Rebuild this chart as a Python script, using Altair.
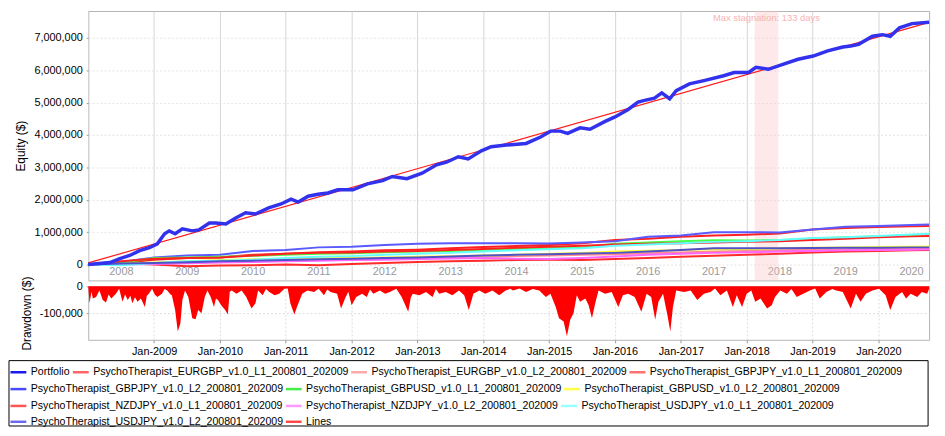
import altair as alt
import numpy as np
import pandas as pd

# ---------------- data (t = years since 1 Jan 2008) ----------------
PORT_T = [0.0, 0.33, 0.48, 0.63, 0.78, 0.93, 1.05, 1.16, 1.23, 1.32, 1.43, 1.58, 1.68, 1.84, 1.94,
          2.09, 2.24, 2.39, 2.54, 2.74, 2.93, 3.08, 3.19, 3.34, 3.49, 3.64, 3.79, 4.02, 4.24, 4.47,
          4.62, 4.84, 5.07, 5.29, 5.44, 5.62, 5.77, 5.97, 6.12, 6.35, 6.65, 6.87, 7.02, 7.17, 7.28,
          7.47, 7.62, 7.85, 8.00, 8.20, 8.35, 8.45, 8.60, 8.71, 8.83, 8.93, 9.13, 9.35, 9.65, 9.81,
          10.03, 10.14, 10.33, 10.56, 10.78, 11.01, 11.23, 11.46, 11.58, 11.70, 11.91, 12.06, 12.18,
          12.32, 12.51, 12.77]
PORT_V = [0.0, 0.06, 0.18, 0.28, 0.43, 0.52, 0.64, 0.95, 1.04, 0.95, 1.10, 1.04, 1.07, 1.28, 1.28,
          1.25, 1.44, 1.60, 1.56, 1.75, 1.87, 2.02, 1.93, 2.11, 2.17, 2.21, 2.31, 2.31, 2.49, 2.59,
          2.72, 2.65, 2.82, 3.08, 3.16, 3.33, 3.26, 3.51, 3.64, 3.69, 3.74, 3.94, 4.12, 4.12, 4.05,
          4.22, 4.18, 4.42, 4.56, 4.79, 5.02, 5.07, 5.14, 5.30, 5.12, 5.37, 5.58, 5.68, 5.83, 5.93,
          5.93, 6.09, 6.03, 6.19, 6.34, 6.44, 6.60, 6.72, 6.75, 6.80, 7.05, 7.10, 7.05, 7.31, 7.44,
          7.48]

TREND_T = [0.0, 12.77]
TREND_V = [0.05, 7.48]

STRAT_T = [0, 0.5, 1, 1.5, 2, 2.5, 3, 3.5, 4, 4.5, 5, 5.5, 6, 6.5, 7, 7.5, 8, 8.5, 9, 9.5, 10,
           10.5, 11, 11.5, 12, 12.5, 12.77]

N_EURGBP_L1 = "PsychoTherapist_EURGBP_v1.0_L1_200801_202009"
N_EURGBP_L2 = "PsychoTherapist_EURGBP_v1.0_L2_200801_202009"
N_GBPJPY_L1 = "PsychoTherapist_GBPJPY_v1.0_L1_200801_202009"
N_GBPJPY_L2 = "PsychoTherapist_GBPJPY_v1.0_L2_200801_202009"
N_GBPUSD_L1 = "PsychoTherapist_GBPUSD_v1.0_L1_200801_202009"
N_GBPUSD_L2 = "PsychoTherapist_GBPUSD_v1.0_L2_200801_202009"
N_NZDJPY_L1 = "PsychoTherapist_NZDJPY_v1.0_L1_200801_202009"
N_NZDJPY_L2 = "PsychoTherapist_NZDJPY_v1.0_L2_200801_202009"
N_USDJPY_L1 = "PsychoTherapist_USDJPY_v1.0_L1_200801_202009"
N_USDJPY_L2 = "PsychoTherapist_USDJPY_v1.0_L2_200801_202009"

V_EURGBP_L1 = [0, 0.05, 0.0, -0.05, -0.03, -0.02, 0.0, -0.02, 0.02, 0.05, 0.08, 0.10, 0.12, 0.14,
               0.15, 0.14, 0.17, 0.20, 0.24, 0.27, 0.30, 0.33, 0.37, 0.40, 0.42, 0.44, 0.45]
V_EURGBP_L2 = [0, 0.02, 0.04, 0.06, 0.08, 0.10, 0.12, 0.14, 0.15, 0.17, 0.19, 0.21, 0.24, 0.26,
               0.28, 0.30, 0.32, 0.35, 0.37, 0.40, 0.42, 0.44, 0.46, 0.47, 0.48, 0.49, 0.50]
V_GBPJPY_L1 = [0, 0.05, 0.15, 0.20, 0.22, 0.30, 0.33, 0.38, 0.40, 0.44, 0.46, 0.50, 0.54, 0.57,
               0.60, 0.66, 0.76, 0.80, 0.86, 0.90, 0.92, 0.96, 1.08, 1.13, 1.16, 1.18, 1.19]
V_GBPJPY_L2 = [0, 0.08, 0.22, 0.28, 0.30, 0.42, 0.45, 0.53, 0.55, 0.60, 0.64, 0.66, 0.66, 0.66,
               0.65, 0.68, 0.72, 0.86, 0.90, 1.00, 1.00, 0.99, 1.08, 1.17, 1.19, 1.22, 1.24]
V_GBPUSD_L1 = [0, 0.05, 0.20, 0.22, 0.24, 0.27, 0.30, 0.33, 0.35, 0.38, 0.40, 0.42, 0.45, 0.48,
               0.50, 0.53, 0.64, 0.68, 0.72, 0.75, 0.74, 0.76, 0.80, 0.84, 0.87, 0.91, 0.93]
V_GBPUSD_L2 = [0, 0.02, 0.06, 0.10, 0.14, 0.16, 0.18, 0.20, 0.20, 0.22, 0.24, 0.26, 0.28, 0.30,
               0.33, 0.36, 0.40, 0.43, 0.45, 0.47, 0.48, 0.50, 0.52, 0.53, 0.54, 0.55, 0.56]
V_NZDJPY_L1 = [0, 0.10, 0.18, 0.20, 0.22, 0.28, 0.33, 0.36, 0.37, 0.40, 0.42, 0.45, 0.48, 0.52,
               0.55, 0.58, 0.62, 0.64, 0.66, 0.68, 0.70, 0.72, 0.76, 0.80, 0.84, 0.87, 0.88]
V_NZDJPY_L2 = [0, 0.0, 0.02, 0.04, 0.06, 0.08, 0.10, 0.12, 0.14, 0.15, 0.17, 0.19, 0.20, 0.18,
               0.17, 0.20, 0.25, 0.30, 0.33, 0.36, 0.38, 0.40, 0.42, 0.44, 0.45, 0.46, 0.47]
V_USDJPY_L1 = [0, -0.02, 0.05, 0.10, 0.12, 0.15, 0.20, 0.24, 0.26, 0.30, 0.33, 0.36, 0.40, 0.44,
               0.47, 0.50, 0.58, 0.62, 0.66, 0.70, 0.72, 0.76, 0.82, 0.84, 0.88, 0.93, 0.95]
V_USDJPY_L2 = [0, 0.03, 0.05, 0.07, 0.10, 0.12, 0.14, 0.16, 0.18, 0.20, 0.22, 0.25, 0.28, 0.30,
               0.32, 0.34, 0.36, 0.40, 0.45, 0.50, 0.50, 0.50, 0.51, 0.52, 0.52, 0.53, 0.53]

DD_T = [0.00, 0.02, 0.05, 0.07, 0.12, 0.17, 0.22, 0.27, 0.31, 0.35, 0.42, 0.47, 0.52, 0.56, 0.60,
        0.64, 0.67, 0.71, 0.75, 0.80, 0.86, 0.89, 0.92, 0.97, 1.01, 1.05, 1.12, 1.16, 1.20, 1.25,
        1.27, 1.32, 1.36, 1.40, 1.43, 1.47, 1.52, 1.58, 1.63, 1.67, 1.72, 1.77, 1.81, 1.86, 1.91,
        1.94, 1.97, 2.02, 2.08, 2.12, 2.15, 2.18, 2.25, 2.33, 2.40, 2.48, 2.54, 2.58, 2.65, 2.70,
        2.75, 2.83, 2.90, 2.98, 3.03, 3.07, 3.13, 3.18, 3.25, 3.33, 3.43, 3.50, 3.58, 3.63, 3.68,
        3.78, 3.84, 3.90, 3.95, 4.00, 4.07, 4.16, 4.23, 4.28, 4.33, 4.43, 4.51, 4.58, 4.68, 4.76,
        4.86, 4.90, 4.93, 5.03, 5.13, 5.23, 5.28, 5.33, 5.43, 5.53, 5.63, 5.71, 5.78, 5.85, 5.94,
        6.03, 6.14, 6.24, 6.34, 6.41, 6.45, 6.55, 6.65, 6.75, 6.85, 6.95, 7.02, 7.10, 7.15, 7.22,
        7.27, 7.32, 7.37, 7.42, 7.47, 7.55, 7.60, 7.65, 7.70, 7.75, 7.85, 7.95, 8.05, 8.12, 8.20,
        8.30, 8.40, 8.48, 8.55, 8.61, 8.66, 8.73, 8.80, 8.84, 8.88, 8.93, 9.05, 9.15, 9.25, 9.35,
        9.45, 9.52, 9.60, 9.70, 9.79, 9.85, 9.93, 10.00, 10.07, 10.13, 10.21, 10.31, 10.38, 10.43,
        10.51, 10.61, 10.68, 10.76, 10.86, 10.96, 11.04, 11.11, 11.21, 11.30, 11.36, 11.46, 11.58,
        11.66, 11.73, 11.81, 11.91, 12.01, 12.11, 12.18, 12.26, 12.36, 12.42, 12.49, 12.59, 12.66,
        12.74, 12.77]
DD_V = [0, -63, -20, -45, -39, -15, -51, -60, -30, -45, -27, -9, -57, -30, -51,
        -35, -63, -40, -57, -45, -76, -35, -27, -9, -30, -39, -27, -10, -15, -30,
        -33, -88, -167, -137, -51, -15, -39, -118, -122, -88, -100, -39, -15, -39, -76,
        -45, -51, -70, -88, -104, -20, -15, -27, -15, -39, -82, -63, -15, -33, -10,
        -21, -33, -27, -9, -8, -63, -104, -70, -27, -15, -21, -9, -33, -12, -21,
        -27, -82, -45, -20, -70, -39, -27, -39, -12, -27, -15, -27, -21, -9, -39,
        -94, -40, -27, -33, -21, -39, -10, -27, -21, -33, -15, -33, -88, -27, -15,
        -27, -15, -33, -15, -9, -15, -8, -21, -10, -15, -39, -27, -76, -118, -130,
        -185, -124, -100, -33, -57, -45, -70, -118, -63, -15, -27, -21, -76, -33, -27,
        -39, -94, -27, -39, -124, -57, -27, -112, -167, -76, -15, -21, -15, -51, -27,
        -21, -8, -33, -15, -76, -33, -76, -27, -15, -57, -45, -82, -70, -39,
        -15, -27, -10, -39, -27, -15, -8, -45, -21, -10, -15, -21, -82,
        -27, -57, -27, -15, -9, -33, -88, -39, -21, -45, -27, -39, -21,
        -27, -10]

STAG_START, STAG_END = 10.12, 10.48
STAG_LABEL = "Max stagnation: 133 days"
X_END = 12.77
YEAR0 = 2008

STRAT_NAMES = [N_EURGBP_L1, N_EURGBP_L2, N_GBPJPY_L1, N_GBPJPY_L2, N_GBPUSD_L1, N_GBPUSD_L2,
               N_NZDJPY_L1, N_NZDJPY_L2, N_USDJPY_L1, N_USDJPY_L2]
STRAT_VALUES = [V_EURGBP_L1, V_EURGBP_L2, V_GBPJPY_L1, V_GBPJPY_L2, V_GBPUSD_L1, V_GBPUSD_L2,
                V_NZDJPY_L1, V_NZDJPY_L2, V_USDJPY_L1, V_USDJPY_L2]
STRAT_COLORS = ["#ff2a2a", "#ff8c8c", "#ff2020", "#5a5aff", "#44ff44", "#ffff33",
                "#ff2020", "#ff66ff", "#66ffff", "#5050c8"]

LEGEND_ROWS = [
    ["Portfolio", N_EURGBP_L1, N_EURGBP_L2, N_GBPJPY_L1],
    [N_GBPJPY_L2, N_GBPUSD_L1, N_GBPUSD_L2],
    [N_NZDJPY_L1, N_NZDJPY_L2, N_USDJPY_L1],
    [N_USDJPY_L2, "Lines"],
]
LEGEND_COLORS = {
    "Portfolio": "#1a1aee", N_EURGBP_L1: "#ff6666", N_EURGBP_L2: "#ffaaaa", N_GBPJPY_L1: "#ff7070",
    N_GBPJPY_L2: "#4848ff", N_GBPUSD_L1: "#44ee44", N_GBPUSD_L2: "#ffff44", N_NZDJPY_L1: "#ff5555",
    N_NZDJPY_L2: "#ff99ff", N_USDJPY_L1: "#99ffff", N_USDJPY_L2: "#6a6aee", "Lines": "#ff4a4a",
}

# ---------------- tables ----------------
port_df = pd.DataFrame({"t": PORT_T, "value": np.array(PORT_V) * 1e6})
trend_df = pd.DataFrame({"t": TREND_T, "value": np.array(TREND_V) * 1e6})
strat_df = pd.concat([
    pd.DataFrame({"t": STRAT_T, "value": np.array(v) * 1e6, "series": n})
    for n, v in zip(STRAT_NAMES, STRAT_VALUES)
], ignore_index=True)
dd_df = pd.DataFrame({"t": DD_T, "dd": np.array(DD_V) * 1e3})
stag_df = pd.DataFrame({"s": [STAG_START], "e": [STAG_END],
                        "m": [(STAG_START + STAG_END) / 2], "label": [STAG_LABEL]})

FONT = "Liberation Sans"
x_scale = alt.Scale(domain=[0, X_END], nice=False, zero=False)

# ---------------- top (equity) panel ----------------
top_x_axis = alt.Axis(values=list(range(0, 13)), labelExpr=f"format({YEAR0} + datum.value, 'd')",
                      title=None, domain=False, ticks=False,
                      labelPadding=-15, labelOffset=33, labelFlush=False, labelOverlap=False,
                      labelColor="#9a9a9a", labelFontSize=11, grid=True, gridColor="#d6d6d6",
                      gridWidth=1)
top_y_axis = alt.Axis(values=[float(i * 1000000) for i in range(0, 8)], format=",.0f",
                      title="Equity ($)", domain=False, tickSize=2, tickColor="#999999",
                      labelPadding=4, labelOverlap=False, labelFlush=False,
                      gridColor="#e4e4e4", gridDash=[2, 2], titlePadding=6)
y_scale = alt.Scale(domain=[-0.49e6, 7.83e6], nice=False, zero=False)

band = alt.Chart(stag_df).mark_rect(color="#f9c4c4", opacity=0.38).encode(
    x=alt.X("s:Q", scale=x_scale, axis=top_x_axis), x2="e:Q")
stag_text = alt.Chart(stag_df).mark_text(color="#f7b4b4", fontSize=9.5, baseline="middle",
                                         font=FONT).encode(
    x=alt.X("m:Q", scale=x_scale, axis=top_x_axis), y=alt.value(7), text="label:N")
strat_lines = alt.Chart(strat_df).mark_line(strokeWidth=2).encode(
    x=alt.X("t:Q", scale=x_scale, axis=top_x_axis),
    y=alt.Y("value:Q", scale=y_scale, axis=top_y_axis),
    color=alt.Color("series:N", scale=alt.Scale(domain=STRAT_NAMES, range=STRAT_COLORS), legend=None),
    detail="series:N")
trend_line = alt.Chart(trend_df).mark_line(strokeWidth=1.2, color="#ff1a1a").encode(
    x=alt.X("t:Q", scale=x_scale, axis=top_x_axis),
    y=alt.Y("value:Q", scale=y_scale, axis=top_y_axis))
port_line = alt.Chart(port_df).mark_line(strokeWidth=3.5, color="#3131ee").encode(
    x=alt.X("t:Q", scale=x_scale, axis=top_x_axis),
    y=alt.Y("value:Q", scale=y_scale, axis=top_y_axis))

top = alt.layer(band, stag_text, strat_lines, trend_line, port_line).properties(width=849, height=272)

# ---------------- drawdown panel ----------------
dd_x_axis = alt.Axis(values=list(range(1, 13)), labelExpr=f"'Jan-' + format({YEAR0} + datum.value, 'd')",
                     title=None, domain=False,
                     tickSize=3, tickColor="#999999", labelPadding=3, labelColor="black",
                     labelFontSize=11, labelFlush=False, labelOverlap=False,
                     grid=True, gridColor="#dcdcdc", gridDash=[2, 2])
dd_y_axis = alt.Axis(values=[0, -100000], title="Drawdown ($)", domain=False, tickSize=2,
                     tickColor="#999999", labelPadding=4, labelOverlap=False, labelFlush=False,
                     labelExpr="replace(format(datum.value, ',.0f'), '\u2212', '-')",
                     gridColor="#dcdcdc", gridDash=[2, 2], titlePadding=6)

dd_area = alt.Chart(dd_df).mark_area(color="#ff0000", interpolate="linear").encode(
    x=alt.X("t:Q", scale=x_scale, axis=dd_x_axis),
    y=alt.Y("dd:Q", scale=alt.Scale(domain=[-198000, 0], nice=False), axis=dd_y_axis),
    y2=alt.datum(0))

legend_box = alt.Chart(pd.DataFrame({"k": [0]})).mark_rect(
    fillOpacity=0, stroke="black", strokeWidth=1).encode(
    x=alt.value(-80), x2=alt.value(848), y=alt.value(75), y2=alt.value(141))

legend_layers = []
row_y = [77, 94, 111, 127]
for i, row in enumerate(LEGEND_ROWS):
    legend_layers.append(
        alt.Chart(pd.DataFrame({"name": row})).mark_line(opacity=0).encode(
            color=alt.Color("name:N",
                            scale=alt.Scale(domain=row, range=[LEGEND_COLORS[n] for n in row]),
                            legend=alt.Legend(orient="none", legendX=-80, legendY=row_y[i],
                                              direction="horizontal", title=None,
                                              symbolType="stroke", symbolSize=256,
                                              symbolStrokeWidth=2.5, symbolOpacity=1,
                                              labelFontSize=10.7, labelFont=FONT,
                                              labelColor="black", labelLimit=600,
                                              labelOffset=3, columnPadding=-3, padding=0)))
    )

drawdown = alt.layer(dd_area, legend_box, *legend_layers).resolve_scale(
    color="independent").properties(width=849, height=54)

chart = alt.vconcat(top, drawdown, spacing=-6).resolve_scale(color="independent").properties(
    padding=0, background="white"
).configure(font=FONT).configure_view(stroke="#b4b4b4").configure_axis(
    labelFont=FONT, titleFont=FONT, labelFontSize=11, labelColor="black",
    titleFontSize=12, titleFontWeight="normal", titleColor="black"
)

chart.save("out.html", embed_options={"renderer": "svg", "actions": False})
